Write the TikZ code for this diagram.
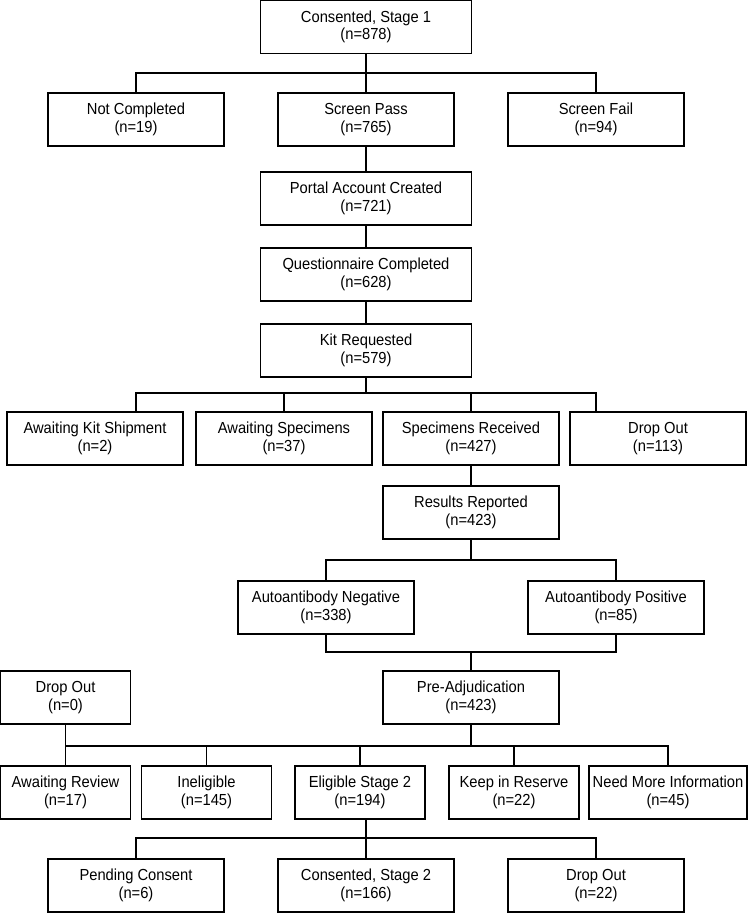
\documentclass[tikz,border=0pt]{standalone}
\usepackage{fontspec}
\setmainfont[FakeStretch=0.92]{Liberation Sans}
\usetikzlibrary{positioning}
\tikzset{box node/.style={rectangle,draw,line width=1.5pt,minimum height=53pt,inner sep=0pt,align=center,font=\fontsize{16}{17.5}\selectfont},
  wide node/.style={box node,minimum width=211pt},
  mid node/.style={box node,minimum width=176pt},
  small node/.style={box node,minimum width=130pt},}

\begin{document}
\begin{tikzpicture}[x=1pt,y=-1pt]
   \useasboundingbox (0,0) rectangle (748,914);
   % stage 1 screening
   \node[wide node] (c1) at (366,27) {Consented, Stage 1\\(n=878)};
   \node[mid node] (notc) at (136,119.5) {Not Completed\\(n=19)};
   \node[mid node] (spass) at (366,119.5) {Screen Pass\\(n=765)};
   \node[mid node] (sfail) at (596,119.5) {Screen Fail\\(n=94)};
   \node[wide node] (portal) at (366,198.5) {Portal Account Created\\(n=721)};
   \node[wide node] (quest) at (366,274.5) {Questionnaire Completed\\(n=628)};
   \node[wide node] (kit) at (366,350.5) {Kit Requested\\(n=579)};
   % kits and specimens
   \node[mid node] (akship) at (95,438.5) {Awaiting Kit Shipment\\(n=2)};
   \node[mid node] (aspec) at (284,438.5) {Awaiting Specimens\\(n=37)};
   \node[mid node] (specrec) at (471,438.5) {Specimens Received\\(n=427)};
   \node[mid node] (drop1) at (658,438.5) {Drop Out\\(n=113)};
   \node[mid node] (results) at (471,512.5) {Results Reported\\(n=423)};
   \node[mid node] (aneg) at (326,607.5) {Autoantibody Negative\\(n=338)};
   \node[mid node] (apos) at (616,607.5) {Autoantibody Positive\\(n=85)};
   % adjudication
   \node[small node] (drop0) at (65.5,697.5) {Drop Out\\(n=0)};
   \node[mid node] (preadj) at (471,697.5) {Pre-Adjudication\\(n=423)};
   \node[small node] (areview) at (65.5,792.5) {Awaiting Review\\(n=17)};
   \node[small node] (inelig) at (206.5,792.5) {Ineligible\\(n=145)};
   \node[small node] (elig) at (360,792.5) {Eligible Stage 2\\(n=194)};
   \node[small node] (keep) at (514,792.5) {Keep in Reserve\\(n=22)};
   \node[box node,minimum width=158pt] (needmore) at (668,792.5) {Need More Information\\(n=45)};
   % stage 2
   \node[mid node] (pending) at (136,885.5) {Pending Consent\\(n=6)};
   \node[mid node] (c2) at (366,885.5) {Consented, Stage 2\\(n=166)};
   \node[mid node] (drop22) at (596,885.5) {Drop Out\\(n=22)};

   \coordinate (j1) at (366,73);
   \coordinate (j2) at (366,393);
   \coordinate (j3) at (471,560);
   \coordinate (j4) at (471,652);
   \coordinate (j5) at (471,746);
   \coordinate (j6) at (366,838);

    \path[draw,line width=1.1pt]
    (c1.south) -- (spass.north)
    (notc.north) |- (j1) -| (sfail.north)
    (spass.south) -- (portal.north)
    (portal.south) -- (quest.north)
    (quest.south) -- (kit.north)
    (kit.south) -- (j2)
    (akship.north -| notc) |- (j2) -| (drop1.north -| sfail)
    (aspec.north) |- (j2)
    (specrec.north) |- (j2)
    (specrec.south) -- (results.north)
    (results.south) -- (j3)
    (aneg.north) |- (j3) -| (apos.north)
    (aneg.south) |- (j4) -| (apos.south)
    (j4) -- (preadj.north)
    (preadj.south) -- (j5)
    (drop0.south) -- (areview.north)
    (areview.north) |- (j5) -| (needmore.north)
    (inelig.north) |- (j5)
    (elig.north) |- (j5)
    (keep.north) |- (j5)
    (elig.south -| c2) -- (c2.north)
    (pending.north) |- (j6) -| (drop22.north);
  \end{tikzpicture}
\end{document}
